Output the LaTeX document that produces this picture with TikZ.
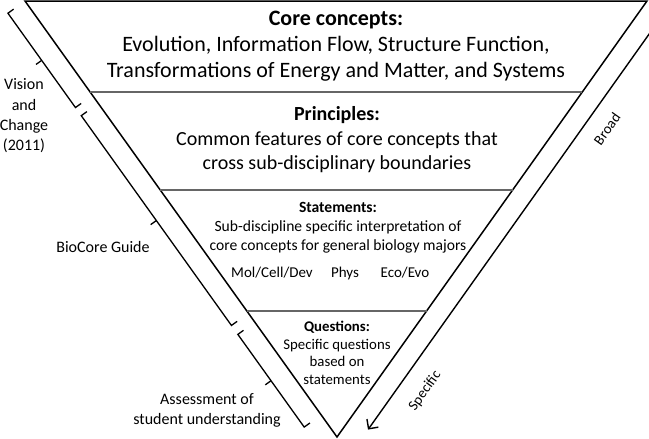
\documentclass[tikz,border=0pt]{standalone}
\usepackage{fontspec}
\setmainfont{Carlito}
\usetikzlibrary{calc,arrows.meta}

\begin{document}
\begin{tikzpicture}[x=1pt,y=-1pt,
    edge/.style={line width=1.5pt},
    level/.style={line width=1.2pt,black!60},
    brace/.style={line width=1.3pt},
    flow/.style={line width=1.4pt,-{Straight Barb[length=7pt,width=14pt]}},
    txt/.style={align=center,inner sep=0pt}]
  \useasboundingbox (0,0) rectangle (649,439);
  % triangle
  \coordinate (TL) at (25,1);
  \coordinate (TR) at (647,1);
  \coordinate (B) at (337,437);
  \draw[edge] (TL) -- (TR) -- (B) -- cycle;
  % levels
  \coordinate (l1) at ($(TL)!0.2087!(B)$);
  \coordinate (r1) at ($(TR)!0.2087!(B)$);
  \coordinate (l2) at ($(TL)!0.4335!(B)$);
  \coordinate (r2) at ($(TR)!0.4335!(B)$);
  \coordinate (l3) at ($(TL)!0.711!(B)$);
  \coordinate (r3) at ($(TR)!0.711!(B)$);
  \draw[level] (l1) -- (r1);
  \draw[level] (l2) -- (r2);
  \draw[level] (l3) -- (r3);
  % texts
  \node[txt,font=\fontsize{22}{26}\selectfont] (core) at (336,46)
    {\textbf{Core concepts:}\\Evolution, Information Flow, Structure Function,\\Transformations of Energy and Matter, and Systems};
  \node[txt,font=\fontsize{20}{24.5}\selectfont] (principles) at (337,140)
    {\textbf{Principles:}\\Common features of core concepts that\\cross sub-disciplinary boundaries};
  \node[txt,font=\fontsize{15.6}{19}\selectfont] (statements) at (338,227.5)
    {\textbf{Statements:}\\Sub-discipline specific interpretation of\\core concepts for general biology majors};
  \node[txt,font=\fontsize{15}{19}\selectfont] (mol) at (272,273) {Mol/Cell/Dev};
  \node[txt,font=\fontsize{15}{19}\selectfont] (phys) at (345,273) {Phys};
  \node[txt,font=\fontsize{15}{19}\selectfont] (eco) at (405,273) {Eco/Evo};
  \node[txt,font=\fontsize{14.8}{17.5}\selectfont] (questions) at (337,353)
    {\textbf{Questions:}\\Specific questions\\based on\\statements};
  % brackets on the left
  \begin{scope}[shift={(TL)},rotate=-54.4]
    \draw[brace] (0,14) -- (0,21) -- (116,21) -- (116,14);
    \draw[brace] (58,21) -- (58,28);
    \draw[brace] (126,14) -- (126,21) -- (384,21) -- (384,14);
    \draw[brace] (255,21) -- (255,28);
    \draw[brace] (395,14) -- (395,21) -- (509,21) -- (509,14);
    \draw[brace] (452,21) -- (452,28);
  \end{scope}
  \node[txt,font=\fontsize{16}{20.3}\selectfont] (vision) at (24,116) {Vision\\and\\Change\\(2011)};
  \node[txt,font=\fontsize{16}{20}\selectfont] (biocore) at (103,247) {BioCore Guide};
  \node[txt,font=\fontsize{16}{20}\selectfont] (assess) at (207,410) {Assessment of\\student understanding};
  % broad to specific
  \begin{scope}[shift={(B)},rotate=54.6]
    \coordinate (a0) at (515,21);
    \coordinate (a1) at (24,21);
  \end{scope}
  \draw[flow] (a0) -- (a1);
  \node[txt,rotate=54.6,font=\fontsize{14.5}{17}\selectfont] (broad) at (607,129) {Broad};
  \node[txt,rotate=54.6,font=\fontsize{14.5}{17}\selectfont] (specific) at (425,391) {Specific};
\end{tikzpicture}
\end{document}
